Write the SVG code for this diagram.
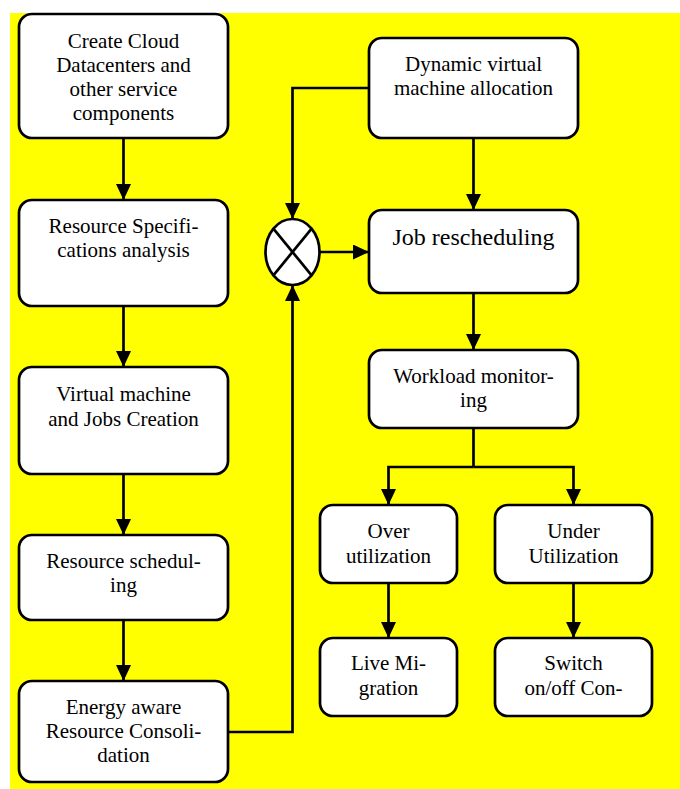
<svg xmlns="http://www.w3.org/2000/svg" width="680" height="789" viewBox="0 0 680 789">
<defs>
<marker id="ah" viewBox="0 0 16 15" refX="16" refY="7.5" markerWidth="16" markerHeight="15" markerUnits="userSpaceOnUse" orient="auto">
<path d="M0,0 L16,7.5 L0,15 z" fill="#000"/>
</marker>
<style>
.box{fill:#fff;stroke:#000;stroke-width:2.7}
.t{font-family:'Liberation Serif','Times New Roman',serif;font-size:21px;fill:#000;text-anchor:middle}
.big{font-size:24px}
.c{fill:none;stroke:#000;stroke-width:2.7}
.a{marker-end:url(#ah)}
</style>
</defs>
<rect x="10" y="13" width="670" height="776" fill="#ffff00"/>
<g id="connectors">
<line class="c a" x1="123.5" y1="138" x2="123.5" y2="200"/>
<line class="c a" x1="123.5" y1="306" x2="123.5" y2="367"/>
<line class="c a" x1="123.5" y1="474" x2="123.5" y2="535"/>
<line class="c a" x1="123.5" y1="620" x2="123.5" y2="681"/>
<polyline class="c a" points="228,732 292.5,732 292.5,285"/>
<polyline class="c a" points="369,88 292.5,88 292.5,219"/>
<line class="c a" x1="319.5" y1="252" x2="369" y2="252"/>
<line class="c a" x1="473.5" y1="138" x2="473.5" y2="210"/>
<line class="c a" x1="473.5" y1="293" x2="473.5" y2="350"/>
<polyline class="c" points="473.5,428 473.5,467"/>
<polyline class="c a" points="473.5,467 388.5,467 388.5,505"/>
<polyline class="c a" points="473.5,467 573.5,467 573.5,505"/>
<line class="c a" x1="388.5" y1="583" x2="388.5" y2="638"/>
<line class="c a" x1="573.5" y1="583" x2="573.5" y2="638"/>
</g>
<g id="n1"><rect class="box" x="19" y="14" width="209" height="124" rx="13"/>
<text class="t" x="123.5" y="48">Create Cloud</text><text class="t" x="123.5" y="72">Datacenters and</text><text class="t" x="123.5" y="96">other service</text><text class="t" x="123.5" y="120">components</text></g>
<g id="n2"><rect class="box" x="19" y="200" width="209" height="106" rx="13"/>
<text class="t" x="123.5" y="233">Resource Specifi-</text><text class="t" x="123.5" y="257">cations analysis</text></g>
<g id="n3"><rect class="box" x="19" y="367" width="209" height="107" rx="13"/>
<text class="t" x="123.5" y="401">Virtual machine</text><text class="t" x="123.5" y="426">and Jobs Creation</text></g>
<g id="n4"><rect class="box" x="19" y="535" width="209" height="85" rx="13"/>
<text class="t" x="123.5" y="568">Resource schedul-</text><text class="t" x="123.5" y="592">ing</text></g>
<g id="n5"><rect class="box" x="19" y="681" width="209" height="101" rx="13"/>
<text class="t" x="123.5" y="714">Energy aware</text><text class="t" x="123.5" y="738">Resource Consoli-</text><text class="t" x="123.5" y="762">dation</text></g>
<g id="merge"><ellipse class="box" cx="292.5" cy="252" rx="27" ry="33"/>
<line class="c" x1="273.4" y1="228.7" x2="311.6" y2="275.3"/><line class="c" x1="311.6" y1="228.7" x2="273.4" y2="275.3"/></g>
<g id="n6"><rect class="box" x="369" y="38" width="209" height="100" rx="13"/>
<text class="t" x="473.5" y="71">Dynamic virtual</text><text class="t" x="473.5" y="95">machine allocation</text></g>
<g id="n7"><rect class="box" x="369" y="210" width="209" height="83" rx="13"/>
<text class="t big" x="473.5" y="245">Job rescheduling</text></g>
<g id="n8"><rect class="box" x="369" y="350" width="209" height="78" rx="13"/>
<text class="t" x="473.5" y="383">Workload monitor-</text><text class="t" x="473.5" y="407">ing</text></g>
<g id="n9"><rect class="box" x="320" y="505" width="137" height="78" rx="13"/>
<text class="t" x="388.5" y="538">Over</text><text class="t" x="388.5" y="563">utilization</text></g>
<g id="n10"><rect class="box" x="495" y="505" width="157" height="78" rx="13"/>
<text class="t" x="573.5" y="538">Under</text><text class="t" x="573.5" y="563">Utilization</text></g>
<g id="n11"><rect class="box" x="320" y="638" width="137" height="78" rx="13"/>
<text class="t" x="388.5" y="670">Live Mi-</text><text class="t" x="388.5" y="695">gration</text></g>
<g id="n12"><rect class="box" x="495" y="638" width="157" height="78" rx="13"/>
<text class="t" x="573.5" y="670">Switch</text><text class="t" x="573.5" y="695">on/off Con-</text></g>
</svg>
